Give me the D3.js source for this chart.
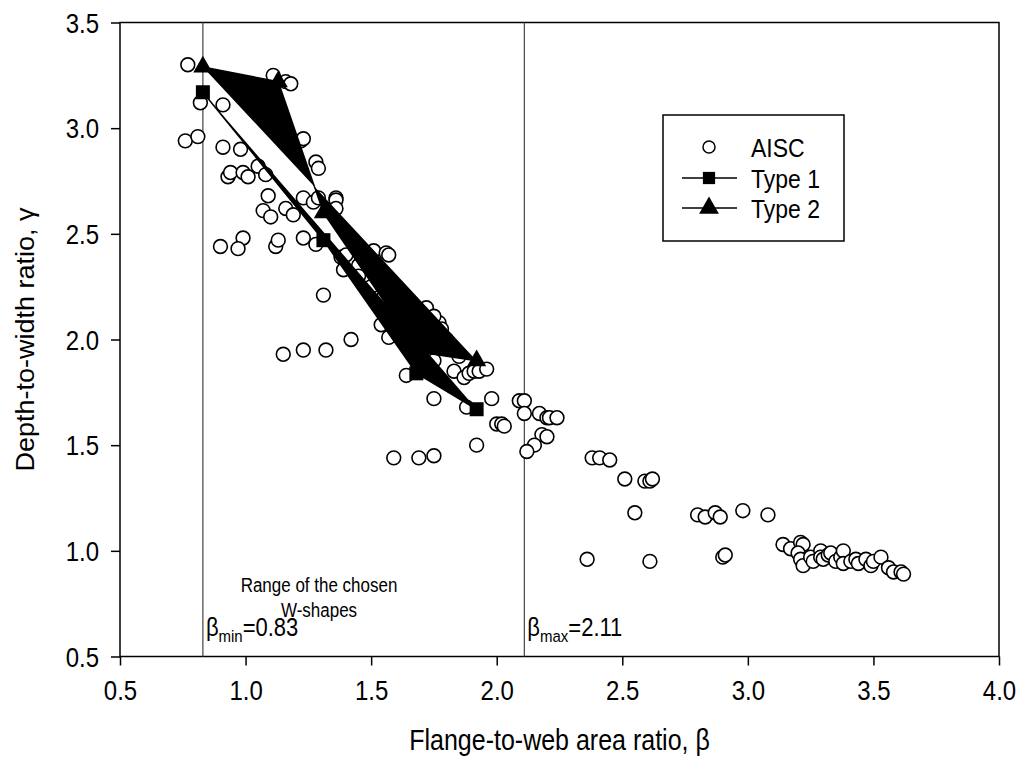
<!DOCTYPE html>
<html>
<head>
<meta charset="utf-8">
<title>W-shapes beta gamma</title>
<script src="https://cdn.jsdelivr.net/npm/d3@7"></script>
<style>
body{margin:0;background:#fff;}
text{font-family:"Liberation Sans",Arial,sans-serif;fill:#000;}
</style>
</head>
<body>
<svg id="chart" width="1020" height="763"></svg>
<script>
// AISC W-shapes: [beta, gamma]
var aisc = [
  [0.77,3.30],[0.76,2.94],[0.81,2.96],[0.82,3.12],[0.91,3.11],[0.91,2.91],[0.98,2.90],
  [1.11,3.25],[1.16,3.22],[1.18,3.21],[1.22,2.94],[1.23,2.95],[1.28,2.84],[1.29,2.81],
  [0.93,2.77],[0.94,2.79],[0.99,2.79],[1.01,2.77],[1.05,2.82],[1.08,2.78],
  [1.09,2.68],[1.07,2.61],[1.10,2.58],[1.16,2.62],[1.19,2.59],[1.23,2.67],[1.27,2.65],
  [1.29,2.67],[1.36,2.67],[1.36,2.66],[1.36,2.62],
  [0.99,2.48],[0.90,2.44],[0.97,2.43],[1.12,2.44],[1.13,2.47],[1.23,2.48],[1.28,2.45],
  [1.38,2.39],[1.39,2.33],[1.40,2.40],[1.45,2.35],[1.51,2.42],[1.56,2.41],[1.57,2.40],
  [1.45,2.30],[1.50,2.25],[1.55,2.20],[1.60,2.15],[1.65,2.10],[1.70,2.05],[1.72,2.15],
  [1.77,2.08],[1.78,2.05],[1.80,2.00],[1.82,1.97],[1.62,2.02],[1.68,1.98],
  [1.31,2.21],[1.54,2.07],[1.57,2.01],[1.75,2.11],[1.42,2.00],
  [1.15,1.93],[1.23,1.95],[1.32,1.95],
  [1.64,1.83],[1.75,1.90],[1.83,1.85],[1.85,1.92],[1.87,1.82],[1.89,1.84],[1.91,1.85],
  [1.93,1.85],[1.96,1.86],
  [1.75,1.72],[1.88,1.68],[1.98,1.72],[2.00,1.60],[2.02,1.60],[2.03,1.59],[1.92,1.50],
  [1.59,1.44],[1.69,1.44],[1.75,1.45],
  [2.09,1.71],[2.11,1.71],[2.11,1.65],[2.17,1.65],[2.20,1.63],[2.21,1.63],[2.24,1.63],
  [2.18,1.55],[2.20,1.54],[2.15,1.50],[2.12,1.47],
  [2.38,1.44],[2.41,1.44],[2.45,1.43],[2.51,1.34],[2.59,1.33],[2.61,1.33],[2.62,1.34],
  [2.55,1.18],[2.80,1.17],[2.83,1.16],[2.87,1.18],[2.89,1.16],[2.98,1.19],[3.08,1.17],
  [2.36,0.96],[2.61,0.95],[2.90,0.97],[2.91,0.98],
  [3.14,1.03],[3.17,1.01],[3.21,1.04],[3.22,1.03],[3.20,0.99],[3.21,0.96],[3.22,0.93],
  [3.25,0.97],[3.26,0.95],[3.29,1.00],[3.29,0.97],[3.30,0.96],[3.32,0.98],[3.33,0.99],
  [3.35,0.95],[3.37,0.97],[3.38,1.00],[3.38,0.94],[3.41,0.95],[3.43,0.96],[3.44,0.94],
  [3.47,0.96],[3.49,0.93],[3.50,0.95],[3.53,0.97],[3.56,0.92],[3.58,0.90],[3.61,0.90],
  [3.62,0.89]
];
// chosen sections
var type1 = [[0.83,3.17],[1.31,2.47],[1.68,1.84],[1.92,1.67]];
var type2 = [[0.83,3.29],[1.13,3.22],[1.31,2.60],[1.69,1.94],[1.92,1.90]];
var xTicks = [0.5,1.0,1.5,2.0,2.5,3.0,3.5,4.0];
var yTicks = [0.5,1.0,1.5,2.0,2.5,3.0,3.5];
var betaMin = 0.83, betaMax = 2.11;
var legendNames = ["AISC","Type 1","Type 2"];

var svg = d3.select("#chart");
var pL = 120, pR = 999, pT = 22.5, pB = 656.5;
var SY = 1.15; // text in the original is a bit taller than wide
var x = d3.scaleLinear().domain([0.5,4.0]).range([pL,pR]);
var y = d3.scaleLinear().domain([0.5,3.5]).range([pB,pT]);

// axes
var gx = svg.append("g").attr("transform","translate(0,"+pB+")")
  .call(d3.axisBottom(x).tickValues(xTicks).tickFormat(d3.format(".1f")).tickSize(9));
var gy = svg.append("g").attr("transform","translate("+pL+",0)")
  .call(d3.axisLeft(y).tickValues(yTicks).tickFormat(d3.format(".1f")).tickSize(9));
svg.selectAll(".domain").remove();
svg.selectAll(".tick line").attr("stroke","#000").attr("stroke-width",1.5);
svg.selectAll(".tick text").style("font-size","24px").attr("font-family",null)
  .attr("x",0).attr("y",0).attr("dy",null);
gx.selectAll(".tick text").attr("transform","translate(0,43) scale(1,"+SY+")");
gy.selectAll(".tick text").attr("transform","translate(-21,9.5) scale(1,"+SY+")");

// frame
svg.append("rect").attr("x",pL).attr("y",pT).attr("width",pR-pL).attr("height",pB-pT)
  .attr("fill","none").attr("stroke","#000").attr("stroke-width",1.5);

// beta limits
[betaMin,betaMax].forEach(function(b){
  svg.append("line").attr("x1",x(b)).attr("x2",x(b)).attr("y1",pT).attr("y2",pB)
    .attr("stroke","#444").attr("stroke-width",1.2);
});
function betaLabel(b,sub){
  var t = svg.append("text").attr("transform","translate("+(x(b)+3)+",636) scale(1,"+SY+")")
    .style("font-size","22px");
  t.append("tspan").text("\u03b2");
  t.append("tspan").text(sub).style("font-size","15px").attr("dy",5);
  t.append("tspan").text("="+b.toFixed(2)).attr("dy",-5);
}
betaLabel(betaMin,"min");
betaLabel(betaMax,"max");

var note = svg.append("text").attr("text-anchor","middle").style("font-size","17px")
  .attr("transform","translate(319,0) scale(1,"+SY+")");
note.append("tspan").attr("x",0).attr("y",592/SY).text("Range of the chosen");
note.append("tspan").attr("x",0).attr("y",617/SY).text("W-shapes");

// AISC circles
svg.append("g").selectAll("circle").data(aisc).enter().append("circle")
  .attr("cx",function(d){return x(d[0]);}).attr("cy",function(d){return y(d[1]);})
  .attr("r",6.9).attr("fill","#fff").attr("stroke","#000").attr("stroke-width",1.6);

// chosen sections: connected lines
var line = d3.line().x(function(d){return x(d[0]);}).y(function(d){return y(d[1]);});
[type1,type2].forEach(function(s){
  svg.append("path").attr("d",line(s)).attr("stroke","#000").attr("stroke-width",1.5);
});
var sq = d3.symbol().type(d3.symbolSquare).size(196);
var tri = d3.symbol().type(d3.symbolTriangle).size(160);
svg.append("g").selectAll("path").data(type1).enter().append("path").attr("d",sq)
  .attr("transform",function(d){return "translate("+x(d[0])+","+y(d[1])+")";});
svg.append("g").selectAll("path").data(type2).enter().append("path").attr("d",tri)
  .attr("transform",function(d){return "translate("+x(d[0])+","+y(d[1])+")";});

// axis titles
svg.append("text").attr("transform","translate("+((pL+pR)/2)+",750) scale(1,"+SY+")")
  .attr("text-anchor","middle").style("font-size","25px").text("Flange-to-web area ratio, \u03b2");
svg.append("text").attr("transform","translate(34,"+((pT+pB)/2)+") scale(1,1.08) rotate(-90)")
  .attr("text-anchor","middle").style("font-size","25px").text("Depth-to-width ratio, \u03b3");

// legend
var lg = svg.append("g");
lg.append("rect").attr("x",663).attr("y",115).attr("width",181).attr("height",126)
  .attr("fill","#fff").attr("stroke","#000").attr("stroke-width",1.5);
var rowY = [147,178,208];
legendNames.forEach(function(n,i){
  var cy = rowY[i];
  if(i==0){
    lg.append("circle").attr("cx",709).attr("cy",cy).attr("r",6).attr("fill","#fff")
      .attr("stroke","#000").attr("stroke-width",1.5);
  }else{
    lg.append("line").attr("x1",682).attr("x2",737).attr("y1",cy).attr("y2",cy)
      .attr("stroke","#000").attr("stroke-width",1.5);
    lg.append("path").attr("d",i==1?d3.symbol().type(d3.symbolSquare).size(150)():d3.symbol().type(d3.symbolTriangle).size(170)())
      .attr("transform","translate(709,"+cy+")");
  }
  lg.append("text").attr("transform","translate(751,"+(cy+9.5)+") scale(1,"+SY+")")
    .style("font-size","23px").text(n);
});
</script>
</body>
</html>
